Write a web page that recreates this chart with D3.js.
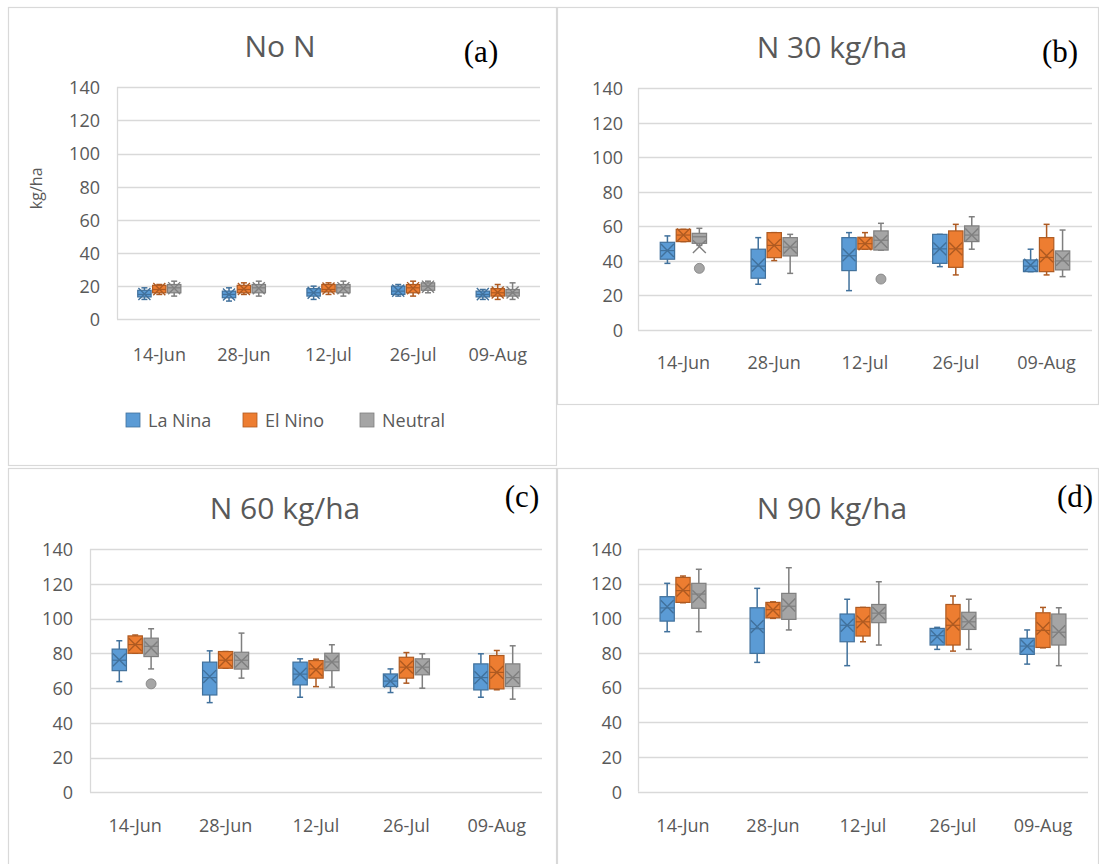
<!DOCTYPE html>
<html><head><meta charset="utf-8">
<script src="https://cdn.jsdelivr.net/npm/d3@7"></script>
<style>html,body{margin:0;padding:0;background:#fff;} svg{display:block;}</style>
</head><body>
<svg id="chart" width="1099" height="864"></svg>
<script>
// ---------- DATA ----------
const categories = ["14-Jun", "28-Jun", "12-Jul", "26-Jul", "09-Aug"];
const yTicks = [0, 20, 40, 60, 80, 100, 120, 140];
const seriesNames = ["La Nina", "El Nino", "Neutral"];
const panelTitles = ["No N", "N 30 kg/ha", "N 60 kg/ha", "N 90 kg/ha"];
const panelLetters = ["(a)", "(b)", "(c)", "(d)"];
// each entry: [min, q1, median, q3, max, mean]
const noN_laNina = [[12,13.5,15,17.5,19,15.3],[11,13,15,17,19,15],[12,14,16,18.5,20,16],[14,15,17,20,21,17.3],[12,13.5,15,17,18,15.2]];
const noN_elNino = [[15,16,18,20.5,21,18.2],[15,16,18,20.5,22,18.3],[15,16.5,18,21,22,18.6],[14,16,19,21,23,18.8],[12,14,16,18.5,21,16.2]];
const noN_neutral = [[14,16,19,21,23,18.8],[14,16,19,21,23,18.7],[14,16,19,21,23,18.8],[16,17.5,20,22,23,19.7],[12,14,16,18,22,16.2]];
const n30_laNina = [[38.6,41,46,50.8,54.5,46],[26.5,30,37,46.8,53.5,37.7],[22.8,34.4,43,53.5,56.4,43.5],[36.7,38.6,47,55.4,55.4,47],[33.8,33.8,37,40.6,46.8,37.5]];
const n30_elNino = [[51.2,51.2,55,58.3,58.3,55],[40.2,41.9,49,56.4,56.4,49],[46.8,46.8,50,53.7,56.4,50],[31.9,36.3,47,57.4,61.2,47],[31.9,33.8,42,53.5,61.2,43]];
const n30_neutral = [[49,50.2,54,56,58.9,48.3],[32.8,42.9,48,53.5,55.4,48],[46.3,46.3,52,57.4,61.8,51.2],[46.8,51.2,55,60.3,65.6,55],[30.9,34.8,40,45.8,57.9,41]];
const n60_laNina = [[63.7,70,76,82.4,87.2,76.2],[51.6,56,66,74.9,81.4,66.6],[54.7,61.8,68,74.9,76.8,68],[57.4,60.8,64,68.1,71,64],[54.7,58.9,66,73.9,79.7,66]];
const n60_elNino = [[80,80,85,90,90.5,85],[71.4,71.4,76,81,81,76],[60.8,65.7,71,75.8,76.6,70.5],[62.8,65.7,72,77.7,80.4,72],[59,59.5,69,78.7,81.6,69]];
const n60_neutral = [[71,78.1,84,88.7,94.1,83],[65.7,70.9,76,80.6,91.6,75.5],[60.5,70,75,80,84.9,75],[59.9,67.6,72,76.8,79.7,72],[53.6,60.8,66,73.9,84.3,66]];
const n90_laNina = [[92.3,98.4,106,112.5,120.2,106.7],[74.6,79.8,94,106.1,117.3,95.2],[72.7,86.5,96,102.5,111,96],[82.1,84.6,90,94.2,94.8,89.5],[73.6,79.2,84,88.5,93.3,84]];
const n90_elNino = [[109,109.2,116,123.6,124.4,116.3],[100,100.3,105,109.2,109.5,104.8],[86.5,89.8,98,106.3,106.3,98],[81.1,84.6,96,108,112.9,96.7],[83,83.2,93,103.2,106.3,94.2]];
const n90_neutral = [[92.3,105.8,114,120.2,128.3,112.5],[93.3,99.4,107,114.4,129.2,107.7],[84.6,97.5,103,108,121.1,102.9],[82.1,93.6,98,103.5,111,98],[72.7,84.6,92,102.5,106.1,92.3]];
// outliers per category
const n30_neutral_outliers = [[35.7],[],[29.5],[],[]];
const n60_neutral_outliers = [[62.4],[],[],[],[]];

// ---------- STYLE / LAYOUT ----------
const fills = ["#5B9BD5", "#ED7D31", "#A5A5A5"];
const strokes = ["#41719C", "#AE5A21", "#7F7F7F"];
const textColor = "#595959";
const gridColor = "#D9D9D9";
const font = "'Open Sans', 'DejaVu Sans', sans-serif";

const panels = [
  { data:[noN_laNina, noN_elNino, noN_neutral], outliers:[null,null,null],
    frame:[8,7,557,466], left:117, right:540, yTop:87.3, yBot:319.3, tickX:100, catY:355,
    titleX:280, titleY:57, letterX:481, letterY:62, legend:true, yTitle:true },
  { data:[n30_laNina, n30_elNino, n30_neutral], outliers:[null,null,n30_neutral_outliers],
    frame:[557,7,1099,405], left:638, right:1092, yTop:88.3, yBot:330, tickX:623, catY:363,
    titleX:832, titleY:58, letterX:1060, letterY:62 },
  { data:[n60_laNina, n60_elNino, n60_neutral], outliers:[null,null,n60_neutral_outliers],
    frame:[8,468,557,870], left:90, right:542, yTop:549, yBot:792.3, tickX:73, catY:826,
    titleX:285, titleY:519, letterX:522, letterY:507 },
  { data:[n90_laNina, n90_elNino, n90_neutral], outliers:[null,null,null],
    frame:[557,468,1099,870], left:638, right:1088, yTop:549, yBot:791.7, tickX:622, catY:826,
    titleX:832, titleY:519, letterX:1075, letterY:507 }
];

const svg = d3.select("#chart");

panels.forEach((p, pi) => {
  const g = svg.append("g");
  const [fx0, fy0, fx1, fy1] = p.frame;
  g.append("rect").attr("x", fx0 + 0.5).attr("y", fy0 + 0.5)
    .attr("width", fx1 - fx0 - 1).attr("height", fy1 - fy0 - 1)
    .attr("fill", "#fff").attr("stroke", gridColor).attr("stroke-width", 1.2);

  const x = d3.scaleBand().domain(categories).range([p.left, p.right]).paddingInner(0).paddingOuter(0);
  const y = d3.scaleLinear().domain([0, 140]).range([p.yBot, p.yTop]);
  const bw = x.bandwidth();
  const xs = d3.scaleBand().domain(seriesNames).range([-bw * 0.255, bw * 0.255]).paddingInner(0.1);
  const boxW = xs.bandwidth();

  // gridlines
  g.append("g").selectAll("line").data(yTicks).join("line")
    .attr("x1", p.left).attr("x2", p.right)
    .attr("y1", d => Math.round(y(d)) + 0.5).attr("y2", d => Math.round(y(d)) + 0.5)
    .attr("stroke", gridColor).attr("stroke-width", 1.3);
  g.append("line").attr("x1", p.left + 0.5).attr("x2", p.left + 0.5)
    .attr("y1", y(140)).attr("y2", y(0)).attr("stroke", gridColor).attr("stroke-width", 1.3);

  // y axis labels
  const yAxis = d3.axisLeft(y).tickValues(yTicks).tickSize(0).tickPadding(0);
  const ya = g.append("g").attr("transform", `translate(${p.tickX},0)`).call(yAxis);
  ya.select(".domain").remove();
  ya.selectAll("text").attr("fill", textColor).style("font-family", font).style("font-size", "18px")
    .attr("x", 0).attr("dy", "0.35em");

  // x axis labels
  const xAxis = d3.axisBottom(x).tickSize(0).tickPadding(0);
  const xa = g.append("g").attr("transform", `translate(0,${p.catY})`).call(xAxis);
  xa.select(".domain").remove();
  xa.selectAll("text").attr("fill", textColor).style("font-family", font).style("font-size", "18px")
    .attr("y", 0).attr("dy", "0.35em");

  // boxes
  p.data.forEach((series, si) => {
    const sg = g.append("g");
    series.forEach((s, ci) => {
      const [mn, q1, md, q3, mx, mean] = s;
      const cx = x(categories[ci]) + bw / 2 + xs(seriesNames[si]) + boxW / 2;
      const bg = sg.append("g");
      // whiskers
      bg.append("line").attr("x1", cx).attr("x2", cx).attr("y1", y(mx)).attr("y2", y(q3))
        .attr("stroke", strokes[si]).attr("stroke-width", 1.5);
      bg.append("line").attr("x1", cx).attr("x2", cx).attr("y1", y(q1)).attr("y2", y(mn))
        .attr("stroke", strokes[si]).attr("stroke-width", 1.5);
      [mn, mx].forEach(v => bg.append("line").attr("x1", cx - 3).attr("x2", cx + 3)
        .attr("y1", y(v)).attr("y2", y(v)).attr("stroke", strokes[si]).attr("stroke-width", 1.5));
      // box
      bg.append("rect").attr("x", cx - boxW / 2).attr("y", y(q3))
        .attr("width", boxW).attr("height", Math.max(1, y(q1) - y(q3)))
        .attr("fill", fills[si]).attr("stroke", strokes[si]).attr("stroke-width", 1.2);
      // median
      bg.append("line").attr("x1", cx - boxW / 2).attr("x2", cx + boxW / 2)
        .attr("y1", y(md)).attr("y2", y(md)).attr("stroke", strokes[si]).attr("stroke-width", 1.2);
      // mean marker X
      const h = boxW * 0.45;
      bg.append("path").attr("d", `M${cx - h},${y(mean) - h}L${cx + h},${y(mean) + h}M${cx - h},${y(mean) + h}L${cx + h},${y(mean) - h}`)
        .attr("stroke", strokes[si]).attr("stroke-width", 1.4).attr("fill", "none");
      // outliers
      const outs = p.outliers[si] ? p.outliers[si][ci] : [];
      outs.forEach(o => bg.append("circle").attr("cx", cx).attr("cy", y(o)).attr("r", 5)
        .attr("fill", fills[si]).attr("stroke", strokes[si]).attr("stroke-width", 0.8));
    });
  });

  // title
  g.append("text").attr("x", p.titleX).attr("y", p.titleY).attr("text-anchor", "middle")
    .attr("fill", textColor).style("font-family", font).style("font-size", "30px")
    .text(panelTitles[pi]);
  g.append("text").attr("x", p.letterX).attr("y", p.letterY).attr("text-anchor", "middle")
    .attr("fill", "#000").style("font-family", "'Liberation Serif', 'Times New Roman', serif").style("font-size", "31px")
    .text(panelLetters[pi]);

  if (p.yTitle) {
    g.append("text").attr("transform", `translate(42,${(y(0) + y(140)) / 2 - 15}) rotate(-90)`)
      .attr("text-anchor", "middle").attr("fill", textColor)
      .style("font-family", font).style("font-size", "16px").text("kg/ha");
  }
  if (p.legend) {
    const lx = [126, 243, 360];
    const lg = g.append("g");
    seriesNames.forEach((n, i) => {
      lg.append("rect").attr("x", lx[i]).attr("y", 413).attr("width", 14).attr("height", 14)
        .attr("fill", fills[i]).attr("stroke", strokes[i]).attr("stroke-width", 0.8);
      lg.append("text").attr("x", lx[i] + 22).attr("y", 421).attr("dy", "0.35em")
        .attr("fill", textColor).style("font-family", font).style("font-size", "18px").text(n);
    });
  }
});
</script>
</body></html>
